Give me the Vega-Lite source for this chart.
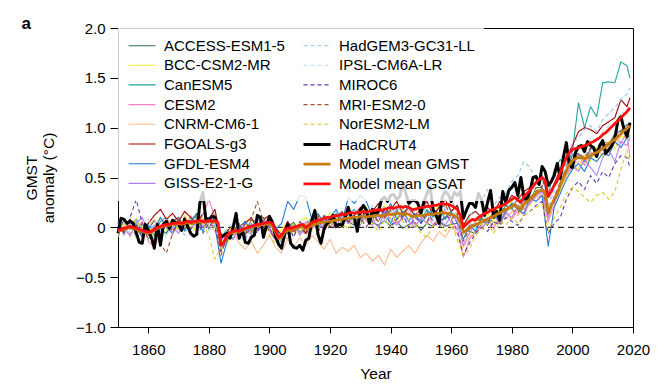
{
"$schema": "https://vega.github.io/schema/vega-lite/v6.json",
"width": 515, "height": 299,
"autosize": "none",
"padding": {"left": 118, "top": 28, "right": 34, "bottom": 61},
"title": {"text": "a", "anchor": "start", "frame": "bounds", "fontSize": 17, "fontWeight": "bold", "font": "Liberation Sans", "offset": 2, "dy": 14, "dx": -3, "color": "black"},
"datasets": {
"names": [{"k":"a","name":"ACCESS-ESM1-5"},{"k":"b","name":"BCC-CSM2-MR"},{"k":"c","name":"CanESM5"},{"k":"d","name":"CESM2"},{"k":"e","name":"CNRM-CM6-1"},{"k":"f","name":"FGOALS-g3"},{"k":"g","name":"GFDL-ESM4"},{"k":"h","name":"GISS-E2-1-G"},{"k":"i","name":"HadGEM3-GC31-LL"},{"k":"j","name":"IPSL-CM6A-LR"},{"k":"k","name":"MIROC6"},{"k":"l","name":"MRI-ESM2-0"},{"k":"m","name":"NorESM2-LM"},{"k":"hc","name":"HadCRUT4"},{"k":"mg","name":"Model mean GMST"},{"k":"ms","name":"Model mean GSAT"}],
"w": [
{"t":1850,"hc":-0.06,"mg":-0.04,"ms":-0.03,"a":0.01,"b":-0.08,"c":0.05,"d":0.02,"e":-0.02,"f":0.04,"g":-0.06,"h":0.06,"i":-0.1,"j":0.04,"k":0.02,"l":0.06,"m":-0.06},
{"t":1851,"hc":0.09,"mg":-0.03,"ms":-0.02},
{"t":1852,"hc":0.08,"mg":-0.02,"ms":-0.01,"a":-0.05,"b":0.04,"c":-0.06,"d":-0.08,"e":0.06,"f":-0.04,"g":0.08,"h":-0.02,"i":0.02,"j":-0.08,"k":-0.06,"l":-0.04,"m":0.04},
{"t":1853,"hc":0.04,"mg":-0.01,"ms":0},
{"t":1854,"hc":0.06,"mg":0,"ms":0.01,"a":0.08,"b":-0.02,"c":0.02,"d":0.05,"e":-0.1,"f":0.08,"g":-0.02,"h":-0.08,"i":-0.06,"j":0.06,"k":0.1,"l":0.02,"m":-0.02},
{"t":1855,"hc":0.04,"mg":-0.01,"ms":0},
{"t":1856,"hc":-0.05,"mg":-0.02,"ms":-0.01,"a":0,"b":0.09,"c":0.08,"d":-0.04,"e":0.04,"f":0.02,"g":0.04,"h":0.04,"i":0.06,"j":-0.12,"k":0.28,"l":-0.08,"m":0.08},
{"t":1857,"hc":-0.15,"mg":-0.03,"ms":-0.02},
{"t":1858,"hc":-0.16,"mg":-0.04,"ms":-0.03,"a":-0.1,"b":0,"c":-0.03,"d":0.06,"e":-0.08,"f":-0.06,"g":-0.1,"h":0.1,"i":-0.02,"j":0,"k":0.04,"l":0.04,"m":-0.04},
{"t":1859,"hc":0.03,"mg":-0.05,"ms":-0.04},
{"t":1860,"hc":-0.03,"mg":-0.06,"ms":-0.05,"a":-0.02,"b":-0.12,"c":0,"d":-0.14,"e":0.02,"f":0.04,"g":0.02,"h":-0.04,"i":-0.12,"j":0.08,"k":-0.08,"l":-0.12,"m":0.02},
{"t":1861,"hc":-0.1,"mg":-0.05,"ms":-0.04},
{"t":1862,"hc":-0.21,"mg":-0.03,"ms":-0.02,"a":0.07,"b":0.02,"c":-0.08,"d":-0.2,"e":0.08,"f":0.12,"g":-0.04,"h":0.02,"i":0.04,"j":-0.06,"k":0,"l":0,"m":-0.1},
{"t":1863,"hc":0.03,"mg":-0.01,"ms":0},
{"t":1864,"hc":-0.18,"mg":0,"ms":0.01,"a":-0.02,"b":0.1,"c":0.06,"d":-0.05,"e":-0.04,"f":0.18,"g":0.1,"h":-0.1,"i":-0.04,"j":0.02,"k":-0.12,"l":-0.16,"m":0.04},
{"t":1865,"hc":0.03,"mg":0.01,"ms":0.02},
{"t":1866,"hc":0.06,"mg":0.02,"ms":0.03,"a":-0.06,"b":-0.03,"c":0.1,"d":0.04,"e":0.1,"f":0.08,"g":0,"h":0.06,"i":0.08,"j":-0.1,"k":0.06,"l":-0.26,"m":0},
{"t":1867,"hc":-0.01,"mg":0.02,"ms":0.03},
{"t":1868,"hc":0.07,"mg":0.03,"ms":0.04,"a":0.06,"b":0.08,"c":-0.02,"d":-0.08,"e":-0.02,"f":0.14,"g":-0.06,"h":0,"i":-0.06,"j":0.06,"k":-0.04,"l":-0.06,"m":0.06},
{"t":1869,"hc":0.05,"mg":0.03,"ms":0.04},
{"t":1870,"hc":0.03,"mg":0.04,"ms":0.05,"a":0.1,"b":-0.02,"c":0.07,"d":0.08,"e":0.06,"f":0.06,"g":0.08,"h":-0.06,"i":0.02,"j":-0.02,"k":0.02,"l":0.08,"m":-0.04},
{"t":1871,"hc":-0.03,"mg":0.03,"ms":0.04},
{"t":1872,"hc":0.08,"mg":0.04,"ms":0.05,"a":0,"b":0.12,"c":-0.04,"d":-0.02,"e":0,"f":0.16,"g":-0.02,"h":0.08,"i":-0.08,"j":0.1,"k":0.1,"l":-0.02,"m":0.08},
{"t":1873,"hc":0.01,"mg":0.05,"ms":0.06},
{"t":1874,"hc":-0.06,"mg":0.04,"ms":0.05,"a":0.06,"b":0.03,"c":0.1,"d":0.1,"e":0.12,"f":0.1,"g":0.06,"h":-0.02,"i":0.06,"j":-0.06,"k":-0.02,"l":0.04,"m":0},
{"t":1875,"hc":-0.09,"mg":0.05,"ms":0.06},
{"t":1876,"hc":-0.07,"mg":0.05,"ms":0.06,"a":0.14,"b":-0.05,"c":0.02,"d":0.02,"e":-0.04,"f":0.04,"g":0.12,"h":0.1,"i":0,"j":0.08,"k":0.08,"l":0.1,"m":0.1},
{"t":1877,"hc":0.24,"mg":0.06,"ms":0.07},
{"t":1878,"hc":0.35,"mg":0.05,"ms":0.06,"a":0,"b":0.1,"c":0.08,"d":0.12,"e":0.08,"f":0.14,"g":-0.04,"h":0,"i":-0.04,"j":0.14,"k":-0.06,"l":0,"m":0.04},
{"t":1879,"hc":0.08,"mg":0.05,"ms":0.06},
{"t":1880,"hc":0.08,"mg":0.06,"ms":0.07,"a":0.06,"b":0.02,"c":-0.02,"d":0.28,"e":0.02,"f":0.08,"g":0.1,"h":0.04,"i":0.08,"j":-0.04,"k":0.04,"l":0.06,"m":-0.08},
{"t":1881,"hc":0.11,"mg":0.05,"ms":0.06},
{"t":1882,"hc":0.1,"mg":0.06,"ms":0.07,"a":0.13,"b":0,"c":0.12,"d":0.1,"e":-0.04,"f":0.18,"g":0.02,"h":0.12,"i":0.02,"j":0.04,"k":0,"l":0.12,"m":-0.32},
{"t":1883,"hc":0.01,"mg":0.04,"ms":0.05},
{"t":1884,"hc":-0.1,"mg":-0.17,"ms":-0.18,"a":-0.23,"b":-0.12,"c":-0.1,"d":-0.2,"e":-0.22,"f":-0.12,"g":-0.36,"h":-0.14,"i":-0.2,"j":-0.16,"k":-0.24,"l":-0.28,"m":-0.2},
{"t":1885,"hc":-0.08,"mg":-0.15,"ms":-0.15},
{"t":1886,"hc":-0.06,"mg":-0.09,"ms":-0.08,"a":-0.06,"b":-0.18,"c":-0.02,"d":-0.1,"e":-0.14,"f":-0.04,"g":-0.14,"h":-0.06,"i":-0.12,"j":-0.02,"k":-0.12,"l":-0.08,"m":-0.06},
{"t":1887,"hc":-0.11,"mg":-0.06,"ms":-0.05},
{"t":1888,"hc":0,"mg":-0.05,"ms":-0.04,"a":-0.07,"b":0.02,"c":-0.12,"d":0,"e":-0.04,"f":0.02,"g":0,"h":-0.12,"i":-0.02,"j":0.06,"k":-0.04,"l":-0.02,"m":0.02},
{"t":1889,"hc":0.14,"mg":-0.04,"ms":-0.03},
{"t":1890,"hc":-0.11,"mg":-0.05,"ms":-0.04,"a":0,"b":-0.1,"c":0.02,"d":-0.12,"e":-0.16,"f":-0.06,"g":-0.08,"h":0,"i":-0.08,"j":-0.04,"k":0.04,"l":0.02,"m":-0.1},
{"t":1891,"hc":-0.02,"mg":-0.03,"ms":-0.02},
{"t":1892,"hc":-0.15,"mg":-0.02,"ms":-0.01,"a":0.06,"b":0.05,"c":-0.06,"d":0.04,"e":-0.22,"f":0.04,"g":0.06,"h":-0.08,"i":-0.14,"j":0.02,"k":-0.1,"l":-0.08,"m":0.04},
{"t":1893,"hc":-0.16,"mg":-0.01,"ms":0},
{"t":1894,"hc":-0.1,"mg":0,"ms":0.01,"a":-0.07,"b":0.08,"c":0.08,"d":-0.06,"e":-0.14,"f":0.1,"g":-0.04,"h":0.04,"i":0.02,"j":-0.1,"k":0.02,"l":0.08,"m":-0.06},
{"t":1895,"hc":-0.08,"mg":0.01,"ms":0.02},
{"t":1896,"hc":0.12,"mg":0.02,"ms":0.03,"a":0.03,"b":-0.04,"c":0.05,"d":0.08,"e":-0.26,"f":-0.02,"g":0.1,"h":-0.04,"i":-0.06,"j":0.06,"k":-0.06,"l":0.26,"m":0.06},
{"t":1897,"hc":0.1,"mg":0.02,"ms":0.03},
{"t":1898,"hc":-0.1,"mg":0.03,"ms":0.04,"a":0.07,"b":0.1,"c":-0.04,"d":0.02,"e":-0.18,"f":0.08,"g":0.02,"h":0.08,"i":0.06,"j":-0.02,"k":0.1,"l":0.06,"m":0},
{"t":1899,"hc":0.02,"mg":0.03,"ms":0.05},
{"t":1900,"hc":0.11,"mg":0.03,"ms":0.05,"a":0,"b":0.06,"c":0.1,"d":-0.04,"e":-0.08,"f":0.12,"g":0.08,"h":-0.02,"i":-0.02,"j":0.1,"k":0,"l":-0.04,"m":-0.08},
{"t":1901,"hc":0.05,"mg":0.02,"ms":0.04},
{"t":1902,"hc":-0.09,"mg":-0.05,"ms":-0.03,"a":0.01,"b":-0.12,"c":0,"d":-0.1,"e":-0.2,"f":0,"g":-0.02,"h":-0.1,"i":-0.08,"j":-0.02,"k":-0.14,"l":-0.12,"m":-0.16},
{"t":1903,"hc":-0.17,"mg":-0.11,"ms":-0.1},
{"t":1904,"hc":-0.21,"mg":-0.1,"ms":-0.08,"a":-0.12,"b":-0.02,"c":-0.16,"d":-0.06,"e":-0.26,"f":-0.08,"g":0.04,"h":-0.14,"i":-0.16,"j":-0.12,"k":-0.08,"l":-0.08,"m":-0.12},
{"t":1905,"hc":-0.07,"mg":-0.05,"ms":-0.03},
{"t":1906,"hc":0.03,"mg":-0.03,"ms":-0.01,"a":0,"b":0.05,"c":0.04,"d":-0.12,"e":-0.12,"f":0.06,"g":0.26,"h":-0.04,"i":-0.06,"j":0,"k":0.02,"l":0.04,"m":-0.02},
{"t":1907,"hc":-0.16,"mg":-0.03,"ms":-0.01},
{"t":1908,"hc":-0.2,"mg":-0.02,"ms":0,"a":0.05,"b":-0.08,"c":0.02,"d":0.02,"e":-0.2,"f":-0.04,"g":0.18,"h":0.02,"i":0,"j":-0.08,"k":-0.1,"l":-0.06,"m":0.04},
{"t":1909,"hc":-0.21,"mg":-0.01,"ms":0.01},
{"t":1910,"hc":-0.18,"mg":0,"ms":0.02,"a":-0.05,"b":0.06,"c":-0.06,"d":-0.06,"e":-0.1,"f":0.04,"g":0.32,"h":-0.08,"i":-0.06,"j":0.04,"k":0.06,"l":0.02,"m":-0.04},
{"t":1911,"hc":-0.23,"mg":0.01,"ms":0.03},
{"t":1912,"hc":-0.13,"mg":-0.02,"ms":0,"a":0,"b":0.1,"c":0.04,"d":0.06,"e":-0.18,"f":-0.06,"g":0.3,"h":0,"i":0.04,"j":-0.04,"k":-0.02,"l":-0.08,"m":0.02},
{"t":1913,"hc":-0.11,"mg":0,"ms":0.02},
{"t":1914,"hc":0.07,"mg":0.02,"ms":0.05,"a":0.1,"b":-0.04,"c":0.08,"d":-0.02,"e":-0.08,"f":0.08,"g":0.08,"h":0.06,"i":-0.02,"j":0.1,"k":0.08,"l":0.06,"m":0.08},
{"t":1915,"hc":0.17,"mg":0.03,"ms":0.06},
{"t":1916,"hc":-0.07,"mg":0.04,"ms":0.07,"a":0,"b":0.12,"c":0,"d":0.1,"e":-0.14,"f":0.02,"g":0.14,"h":-0.04,"i":0.08,"j":0,"k":-0.04,"l":0.12,"m":-0.02},
{"t":1917,"hc":-0.16,"mg":0.05,"ms":0.08},
{"t":1918,"hc":-0.02,"mg":0.05,"ms":0.09,"a":0.06,"b":0.02,"c":0.1,"d":-0.04,"e":-0.22,"f":0.12,"g":0.04,"h":0.08,"i":0.02,"j":0.14,"k":0.02,"l":0.02,"m":0.06},
{"t":1919,"hc":0.04,"mg":0.06,"ms":0.1},
{"t":1920,"hc":0.06,"mg":0.06,"ms":0.1,"a":0,"b":0.15,"c":0.04,"d":0.08,"e":-0.12,"f":0,"g":0.1,"h":0.02,"i":0.1,"j":0.08,"k":0.1,"l":0.1,"m":0},
{"t":1921,"hc":0.12,"mg":0.07,"ms":0.11},
{"t":1922,"hc":0.01,"mg":0.07,"ms":0.12,"a":0.1,"b":0.04,"c":0.14,"d":0,"e":-0.26,"f":0.1,"g":0.18,"h":0,"i":0.16,"j":0.02,"k":-0.02,"l":0.04,"m":0.1},
{"t":1923,"hc":0.03,"mg":0.08,"ms":0.12},
{"t":1924,"hc":0.02,"mg":0.08,"ms":0.13,"a":0.13,"b":0,"c":0.02,"d":0.14,"e":-0.2,"f":0.16,"g":0.06,"h":0.12,"i":0.04,"j":0.16,"k":0.06,"l":0.16,"m":0.04},
{"t":1925,"hc":0.1,"mg":0.09,"ms":0.13},
{"t":1926,"hc":0.2,"mg":0.09,"ms":0.14,"a":0.06,"b":0.16,"c":0.12,"d":0.04,"e":-0.24,"f":0.04,"g":0.3,"h":0.04,"i":0.12,"j":0.1,"k":0.14,"l":0.06,"m":-0.02},
{"t":1927,"hc":0.1,"mg":0.1,"ms":0.15},
{"t":1928,"hc":0.1,"mg":0.1,"ms":0.14,"a":0.02,"b":0.08,"c":0.18,"d":0.12,"e":-0.18,"f":0.12,"g":0.24,"h":0.1,"i":0.06,"j":0.04,"k":0.04,"l":0.12,"m":0.08},
{"t":1929,"hc":-0.04,"mg":0.1,"ms":0.15},
{"t":1930,"hc":0.17,"mg":0.11,"ms":0.15,"a":0.09,"b":0.12,"c":0.08,"d":0.16,"e":-0.3,"f":0.2,"g":0.32,"h":0.02,"i":0.14,"j":0.18,"k":0.1,"l":0.04,"m":0.02},
{"t":1931,"hc":0.22,"mg":0.11,"ms":0.16},
{"t":1932,"hc":0.17,"mg":0.1,"ms":0.15,"a":0.14,"b":0.2,"c":0.16,"d":0.06,"e":-0.26,"f":0.08,"g":0.26,"h":0.14,"i":0.08,"j":0.1,"k":0,"l":0.18,"m":0.1},
{"t":1933,"hc":0.04,"mg":0.11,"ms":0.16},
{"t":1934,"hc":0.18,"mg":0.11,"ms":0.17,"a":0.05,"b":0.06,"c":0.06,"d":0.02,"e":-0.34,"f":0.16,"g":0.1,"h":0.06,"i":0.18,"j":0.22,"k":0.14,"l":0.1,"m":0.04},
{"t":1935,"hc":0.13,"mg":0.12,"ms":0.17},
{"t":1936,"hc":0.16,"mg":0.12,"ms":0.18,"a":0.02,"b":0.15,"c":0.2,"d":0.14,"e":-0.28,"f":0.24,"g":0.2,"h":0,"i":0.1,"j":0.14,"k":0.06,"l":0.06,"m":-0.04},
{"t":1937,"hc":0.28,"mg":0.11,"ms":0.17},
{"t":1938,"hc":0.3,"mg":0.12,"ms":0.18,"a":0.07,"b":0.22,"c":0.14,"d":0.08,"e":-0.38,"f":0.1,"g":0.12,"h":0.16,"i":0.04,"j":0.06,"k":0.18,"l":0.2,"m":0.08},
{"t":1939,"hc":0.26,"mg":0.13,"ms":0.19},
{"t":1940,"hc":0.32,"mg":0.13,"ms":0.2,"a":0.01,"b":0.1,"c":0.04,"d":0.18,"e":-0.22,"f":0.18,"g":0.24,"h":0.08,"i":0.16,"j":0.2,"k":0.02,"l":0.12,"m":0},
{"t":1941,"hc":0.33,"mg":0.13,"ms":0.19},
{"t":1942,"hc":0.28,"mg":0.14,"ms":0.2,"a":0.06,"b":0.05,"c":0.18,"d":0.04,"e":-0.3,"f":0.26,"g":0.08,"h":0.02,"i":0.22,"j":0.12,"k":0.08,"l":0.16,"m":0.12},
{"t":1943,"hc":0.31,"mg":0.14,"ms":0.21},
{"t":1944,"hc":0.45,"mg":0.13,"ms":0.2,"a":-0.01,"b":0.18,"c":0.1,"d":0.1,"e":-0.24,"f":0.14,"g":0.16,"h":0.1,"i":0.12,"j":0.24,"k":0.12,"l":0.08,"m":0.06},
{"t":1945,"hc":0.34,"mg":0.14,"ms":0.21},
{"t":1946,"hc":0.24,"mg":0.13,"ms":0.2,"a":0.03,"b":0.08,"c":0.22,"d":0.2,"e":-0.18,"f":0.2,"g":0.06,"h":0.06,"i":0.06,"j":0.16,"k":0,"l":0.22,"m":-0.02},
{"t":1947,"hc":0.27,"mg":0.11,"ms":0.18},
{"t":1948,"hc":0.27,"mg":0.11,"ms":0.18,"a":0.05,"b":0.2,"c":0.12,"d":0.02,"e":-0.26,"f":0.12,"g":0.14,"h":0,"i":0.18,"j":0.08,"k":0.1,"l":0.1,"m":0.04},
{"t":1949,"hc":0.24,"mg":0.12,"ms":0.19},
{"t":1950,"hc":0.14,"mg":0.12,"ms":0.2,"a":-0.03,"b":0.1,"c":0.06,"d":0.08,"e":-0.16,"f":0.18,"g":0.04,"h":0.1,"i":0.1,"j":0.2,"k":0.04,"l":0.14,"m":-0.06},
{"t":1951,"hc":0.26,"mg":0.12,"ms":0.2},
{"t":1952,"hc":0.34,"mg":0.13,"ms":0.21,"a":0.04,"b":0.03,"c":0.18,"d":0.14,"e":-0.08,"f":0.26,"g":0.12,"h":0.04,"i":0.22,"j":0.12,"k":0.16,"l":0.06,"m":-0.1},
{"t":1953,"hc":0.41,"mg":0.13,"ms":0.21},
{"t":1954,"hc":0.18,"mg":0.13,"ms":0.22,"a":0.01,"b":0.16,"c":0.1,"d":0.02,"e":-0.14,"f":0.12,"g":0.18,"h":0.16,"i":0.14,"j":0.06,"k":0.06,"l":0.18,"m":0.02},
{"t":1955,"hc":0.12,"mg":0.14,"ms":0.22},
{"t":1956,"hc":0.04,"mg":0.14,"ms":0.23,"a":0.06,"b":0.22,"c":0.2,"d":0.1,"e":-0.04,"f":0.2,"g":0.06,"h":0.08,"i":0.08,"j":0.18,"k":0,"l":0.1,"m":0.06},
{"t":1957,"hc":0.3,"mg":0.15,"ms":0.24},
{"t":1958,"hc":0.36,"mg":0.14,"ms":0.23,"a":0.01,"b":0.08,"c":0.08,"d":0.18,"e":-0.1,"f":0.28,"g":0.1,"h":0.02,"i":0.2,"j":0.24,"k":0.12,"l":0.24,"m":-0.04},
{"t":1959,"hc":0.33,"mg":0.14,"ms":0.23},
{"t":1960,"hc":0.26,"mg":0.13,"ms":0.22,"a":0.03,"b":0.17,"c":0.16,"d":0.04,"e":0,"f":0.16,"g":0.16,"h":0.12,"i":0.26,"j":0.1,"k":0.08,"l":0.08,"m":0.04},
{"t":1961,"hc":0.35,"mg":0.12,"ms":0.2},
{"t":1962,"hc":0.32,"mg":0.1,"ms":0.18,"a":0.04,"b":0.2,"c":0.22,"d":0,"e":-0.06,"f":0.22,"g":0.04,"h":0.06,"i":0.18,"j":0.16,"k":-0.04,"l":0.14,"m":-0.12},
{"t":1963,"hc":0.36,"mg":0.05,"ms":0.12},
{"t":1964,"hc":0.09,"mg":-0.05,"ms":0,"a":-0.03,"b":-0.02,"c":0.02,"d":-0.3,"e":-0.2,"f":0.02,"g":-0.12,"h":-0.18,"i":-0.04,"j":-0.08,"k":-0.28,"l":-0.14,"m":-0.28},
{"t":1965,"hc":0.17,"mg":-0.03,"ms":0.03},
{"t":1966,"hc":0.24,"mg":0,"ms":0.06,"a":-0.04,"b":-0.08,"c":0.04,"d":-0.12,"e":-0.1,"f":0.12,"g":0.02,"h":-0.06,"i":0.1,"j":0.04,"k":-0.16,"l":-0.02,"m":-0.22},
{"t":1967,"hc":0.24,"mg":0.02,"ms":0.08},
{"t":1968,"hc":0.2,"mg":0.02,"ms":0.07,"a":-0.06,"b":0.1,"c":-0.02,"d":-0.04,"e":-0.04,"f":0.16,"g":-0.04,"h":0.04,"i":0.2,"j":-0.02,"k":-0.06,"l":0.04,"m":-0.08},
{"t":1969,"hc":0.34,"mg":0.04,"ms":0.1},
{"t":1970,"hc":0.28,"mg":0.06,"ms":0.12,"a":0.03,"b":0.02,"c":0.1,"d":0.02,"e":0,"f":0.1,"g":0.08,"h":-0.02,"i":0.26,"j":0.12,"k":0,"l":0.1,"m":-0.02},
{"t":1971,"hc":0.12,"mg":0.07,"ms":0.14},
{"t":1972,"hc":0.25,"mg":0.08,"ms":0.15,"a":0.1,"b":0.14,"c":0.04,"d":0.1,"e":0.06,"f":0.2,"g":0.02,"h":0.06,"i":0.38,"j":0.06,"k":-0.04,"l":0.04,"m":0.04},
{"t":1973,"hc":0.37,"mg":0.1,"ms":0.17},
{"t":1974,"hc":0.1,"mg":0.11,"ms":0.18,"a":0.05,"b":0.05,"c":0.16,"d":-0.02,"e":0.02,"f":0.14,"g":0.14,"h":0.12,"i":0.22,"j":0.18,"k":0.06,"l":0.16,"m":-0.06},
{"t":1975,"hc":0.16,"mg":0.13,"ms":0.2},
{"t":1976,"hc":0.07,"mg":0.14,"ms":0.21,"a":0.04,"b":0.2,"c":0.12,"d":0.12,"e":0.1,"f":0.26,"g":0.06,"h":0.04,"i":0.3,"j":0.1,"k":0.02,"l":0.1,"m":0.06},
{"t":1977,"hc":0.36,"mg":0.16,"ms":0.22},
{"t":1978,"hc":0.25,"mg":0.18,"ms":0.24,"a":0.14,"b":0.12,"c":0.22,"d":0.16,"e":0.08,"f":0.22,"g":0.16,"h":0.14,"i":0.34,"j":0.2,"k":0.1,"l":0.22,"m":0.02},
{"t":1979,"hc":0.37,"mg":0.19,"ms":0.26},
{"t":1980,"hc":0.4,"mg":0.21,"ms":0.28,"a":0.24,"b":0.28,"c":0.18,"d":0.08,"e":0.16,"f":0.32,"g":0.24,"h":0.1,"i":0.46,"j":0.26,"k":0.06,"l":0.18,"m":0.1},
{"t":1981,"hc":0.45,"mg":0.23,"ms":0.3},
{"t":1982,"hc":0.32,"mg":0.2,"ms":0.27,"a":0.18,"b":0.15,"c":0.3,"d":0.18,"e":0.12,"f":0.28,"g":0.18,"h":0.22,"i":0.52,"j":0.22,"k":0.02,"l":0.14,"m":0.04},
{"t":1983,"hc":0.5,"mg":0.18,"ms":0.25},
{"t":1984,"hc":0.3,"mg":0.23,"ms":0.31,"a":0.28,"b":0.3,"c":0.26,"d":0.12,"e":0.2,"f":0.36,"g":0.14,"h":0.18,"i":0.66,"j":0.3,"k":0.12,"l":0.26,"m":0.12},
{"t":1985,"hc":0.28,"mg":0.26,"ms":0.34},
{"t":1986,"hc":0.36,"mg":0.28,"ms":0.37,"a":0.25,"b":0.22,"c":0.4,"d":0.26,"e":0.24,"f":0.4,"g":0.3,"h":0.24,"i":0.6,"j":0.36,"k":0.16,"l":0.3,"m":0.16},
{"t":1987,"hc":0.5,"mg":0.31,"ms":0.41},
{"t":1988,"hc":0.51,"mg":0.34,"ms":0.45,"a":0.4,"b":0.38,"c":0.44,"d":0.3,"e":0.3,"f":0.46,"g":0.26,"h":0.32,"i":0.48,"j":0.42,"k":0.22,"l":0.36,"m":0.2},
{"t":1989,"hc":0.43,"mg":0.36,"ms":0.48},
{"t":1990,"hc":0.61,"mg":0.38,"ms":0.5,"a":0.4,"b":0.3,"c":0.52,"d":0.32,"e":0.34,"f":0.5,"g":0.32,"h":0.36,"i":0.52,"j":0.46,"k":0.26,"l":0.42,"m":0.24},
{"t":1991,"hc":0.56,"mg":0.35,"ms":0.47},
{"t":1992,"hc":0.42,"mg":0.15,"ms":0.31,"a":0.23,"b":0.05,"c":0.32,"d":0.06,"e":0.1,"f":0.3,"g":-0.19,"h":0.1,"i":0.22,"j":0.2,"k":-0.06,"l":0.12,"m":-0.04},
{"t":1993,"hc":0.46,"mg":0.22,"ms":0.36},
{"t":1994,"hc":0.52,"mg":0.28,"ms":0.42,"a":0.24,"b":0.32,"c":0.58,"d":0.22,"e":0.26,"f":0.44,"g":0.2,"h":0.3,"i":0.4,"j":0.36,"k":0.04,"l":0.3,"m":0.1},
{"t":1995,"hc":0.64,"mg":0.33,"ms":0.47},
{"t":1996,"hc":0.49,"mg":0.42,"ms":0.55,"a":0.45,"b":0.36,"c":0.68,"d":0.4,"e":0.4,"f":0.58,"g":0.34,"h":0.44,"i":0.56,"j":0.5,"k":0.1,"l":0.46,"m":0.2},
{"t":1997,"hc":0.7,"mg":0.5,"ms":0.62},
{"t":1998,"hc":0.85,"mg":0.57,"ms":0.7,"a":0.55,"b":0.5,"c":0.62,"d":0.52,"e":0.52,"f":0.7,"g":0.48,"h":0.54,"i":0.7,"j":0.64,"k":0.28,"l":0.6,"m":0.34},
{"t":1999,"hc":0.62,"mg":0.63,"ms":0.75},
{"t":2000,"hc":0.6,"mg":0.67,"ms":0.78,"a":0.73,"b":0.62,"c":0.76,"d":0.6,"e":0.62,"f":0.82,"g":0.58,"h":0.62,"i":0.84,"j":0.74,"k":0.4,"l":0.66,"m":0.4},
{"t":2001,"hc":0.75,"mg":0.69,"ms":0.79},
{"t":2002,"hc":0.81,"mg":0.7,"ms":0.8,"a":0.74,"b":0.58,"c":1.25,"d":0.72,"e":0.66,"f":0.96,"g":0.64,"h":0.56,"i":0.9,"j":0.82,"k":0.46,"l":0.74,"m":0.36},
{"t":2003,"hc":0.82,"mg":0.7,"ms":0.81},
{"t":2004,"hc":0.76,"mg":0.69,"ms":0.82,"a":0.66,"b":0.72,"c":1.0,"d":0.62,"e":0.64,"f":1.0,"g":0.56,"h":0.68,"i":0.98,"j":0.78,"k":0.38,"l":0.7,"m":0.3},
{"t":2005,"hc":0.86,"mg":0.7,"ms":0.83},
{"t":2006,"hc":0.82,"mg":0.72,"ms":0.85,"a":0.79,"b":0.66,"c":1.21,"d":0.76,"e":0.7,"f":0.98,"g":0.7,"h":0.6,"i":1.02,"j":0.9,"k":0.52,"l":0.8,"m":0.25},
{"t":2007,"hc":0.8,"mg":0.74,"ms":0.86},
{"t":2008,"hc":0.71,"mg":0.75,"ms":0.88,"a":0.77,"b":0.8,"c":1.11,"d":0.7,"e":0.76,"f":0.94,"g":0.66,"h":0.52,"i":0.96,"j":0.86,"k":0.44,"l":0.78,"m":0.32},
{"t":2009,"hc":0.82,"mg":0.77,"ms":0.9},
{"t":2010,"hc":0.87,"mg":0.79,"ms":0.93,"a":0.84,"b":0.7,"c":1.45,"d":0.82,"e":0.74,"f":1.02,"g":0.74,"h":0.7,"i":1.08,"j":0.96,"k":0.56,"l":0.86,"m":0.35},
{"t":2011,"hc":0.74,"mg":0.81,"ms":0.95},
{"t":2012,"hc":0.78,"mg":0.84,"ms":0.98,"a":0.82,"b":0.86,"c":1.46,"d":0.76,"e":0.82,"f":1.06,"g":0.72,"h":0.78,"i":1.14,"j":1.02,"k":0.5,"l":0.84,"m":0.28},
{"t":2013,"hc":0.82,"mg":0.86,"ms":1.01},
{"t":2014,"hc":0.89,"mg":0.88,"ms":1.04,"a":0.94,"b":0.78,"c":1.45,"d":0.9,"e":0.86,"f":1.1,"g":0.86,"h":0.66,"i":1.2,"j":1.04,"k":0.64,"l":0.92,"m":0.36},
{"t":2015,"hc":1.07,"mg":0.91,"ms":1.07},
{"t":2016,"hc":1.11,"mg":0.94,"ms":1.1,"a":0.97,"b":0.92,"c":1.66,"d":0.84,"e":0.92,"f":1.28,"g":0.8,"h":0.86,"i":1.28,"j":1.14,"k":0.72,"l":0.96,"m":0.58},
{"t":2017,"hc":0.99,"mg":0.97,"ms":1.13},
{"t":2018,"hc":0.91,"mg":0.99,"ms":1.16,"a":1.03,"b":0.88,"c":1.62,"d":0.96,"e":0.96,"f":1.21,"g":0.9,"h":0.82,"i":1.34,"j":1.18,"k":0.7,"l":1.0,"m":0.78},
{"t":2019,"hc":1.05,"mg":1.02,"ms":1.2,"a":1.02,"b":0.95,"c":1.5,"d":0.7,"e":1.0,"f":1.3,"g":0.92,"h":0.9,"i":1.4,"j":1.24,"k":0.6,"l":0.98,"m":0.66}
]
},
"encoding": {
"x": {"field": "t", "type": "quantitative", "scale": {"domain": [1850, 2020], "nice": false, "zero": false}, "axis": {"title": "Year", "values": [1860,1880,1900,1920,1940,1960,1980,2000,2020], "format": "d", "labelFlush": false, "labelOverlap": false, "tickSize": 6, "labelPadding": 9, "titlePadding": 9, "grid": false}},
"y": {"field": "v", "type": "quantitative", "scale": {"domain": [-1, 2], "nice": false, "zero": false}, "axis": {"title": ["GMST", "anomaly (°C)"], "values": [-1,-0.5,0,0.5,1,1.5,2], "labelExpr": "datum.value == 0 ? '0' : format(datum.value, '.1f')", "tickSize": 8, "labelPadding": 5, "titlePadding": 19, "titleLineHeight": 17, "grid": false}},
"color": {"field": "name", "type": "nominal", "scale": {"domain": ["ACCESS-ESM1-5","BCC-CSM2-MR","CanESM5","CESM2","CNRM-CM6-1","FGOALS-g3","GFDL-ESM4","GISS-E2-1-G","HadGEM3-GC31-LL","IPSL-CM6A-LR","MIROC6","MRI-ESM2-0","NorESM2-LM","HadCRUT4","Model mean GMST","Model mean GSAT"], "range": ["#356a68","#f2ef30","#22a39c","#f783c0","#ffb98a","#a00000","#1e7bd6","#b380f0","#8ec5f2","#b9dbf5","#6a36b0","#a0522d","#d6cd1e","#000000","#c57a10","#ff1010"]}, "legend": {"title": null}},
"strokeDash": {"field": "name", "type": "nominal", "scale": {"domain": ["ACCESS-ESM1-5","BCC-CSM2-MR","CanESM5","CESM2","CNRM-CM6-1","FGOALS-g3","GFDL-ESM4","GISS-E2-1-G","HadGEM3-GC31-LL","IPSL-CM6A-LR","MIROC6","MRI-ESM2-0","NorESM2-LM","HadCRUT4","Model mean GMST","Model mean GSAT"], "range": [[1,0],[1,0],[1,0],[1,0],[1,0],[1,0],[1,0],[1,0],[4,3],[4,3],[4,3],[4,3],[4,3],[1,0],[1,0],[1,0]]}, "legend": {"title": null}},
"strokeWidth": {"field": "name", "type": "nominal", "scale": {"type": "ordinal", "domain": ["ACCESS-ESM1-5","BCC-CSM2-MR","CanESM5","CESM2","CNRM-CM6-1","FGOALS-g3","GFDL-ESM4","GISS-E2-1-G","HadGEM3-GC31-LL","IPSL-CM6A-LR","MIROC6","MRI-ESM2-0","NorESM2-LM","HadCRUT4","Model mean GMST","Model mean GSAT"], "range": [1.1,1.1,1.1,1.1,1.1,1.1,1.1,1.1,1.1,1.1,1.1,1.1,1.1,3,2.8,2.8]}, "legend": {"title": null}}
},
"layer": [
{"data": {"values": [{"t": 1850, "v": 0}, {"t": 2020, "v": 0}]}, "mark": {"type": "line"}, "encoding": {"color": {"value": "black"}, "strokeDash": {"value": [6, 4]}, "strokeWidth": {"value": 1}}},
{"data": {"name": "w"}, "transform": [{"fold": ["a","b","c","d","e","f","g","h","i","j","k","l","m"], "as": ["k","v"]}, {"filter": "isValid(datum.v)"}, {"lookup": "k", "from": {"data": {"name": "names"}, "key": "k", "fields": ["name"]}}], "mark": {"type": "line", "strokeJoin": "round"}},
{"data": {"name": "w"}, "transform": [{"fold": ["hc"], "as": ["k","v"]}, {"filter": "isValid(datum.v)"}, {"lookup": "k", "from": {"data": {"name": "names"}, "key": "k", "fields": ["name"]}}], "mark": {"type": "line", "strokeJoin": "round"}},
{"data": {"name": "w"}, "transform": [{"fold": ["mg"], "as": ["k","v"]}, {"filter": "isValid(datum.v)"}, {"lookup": "k", "from": {"data": {"name": "names"}, "key": "k", "fields": ["name"]}}], "mark": {"type": "line", "strokeJoin": "round"}},
{"data": {"name": "w"}, "transform": [{"fold": ["ms"], "as": ["k","v"]}, {"filter": "isValid(datum.v)"}, {"lookup": "k", "from": {"data": {"name": "names"}, "key": "k", "fields": ["name"]}}], "mark": {"type": "line", "strokeJoin": "round"}}
],
"config": {
"font": "Liberation Sans",
"view": {"stroke": "black", "strokeWidth": 1},
"axis": {"domainColor": "black", "tickColor": "black", "labelColor": "black", "titleColor": "black", "labelFontSize": 15, "titleFontSize": 15.5, "titleFontWeight": "normal", "domainWidth": 1, "tickWidth": 1},
"legend": {"orient": "top-left", "offset": 0, "columns": 2, "padding": 9, "fillColor": "rgba(255,255,255,0.8)", "labelFontSize": 15, "labelColor": "black", "symbolType": "M-1,0H2.6", "symbolSize": 225, "labelOffset": 19, "columnPadding": 12, "rowPadding": 2.7, "labelLimit": 0}
}
}
